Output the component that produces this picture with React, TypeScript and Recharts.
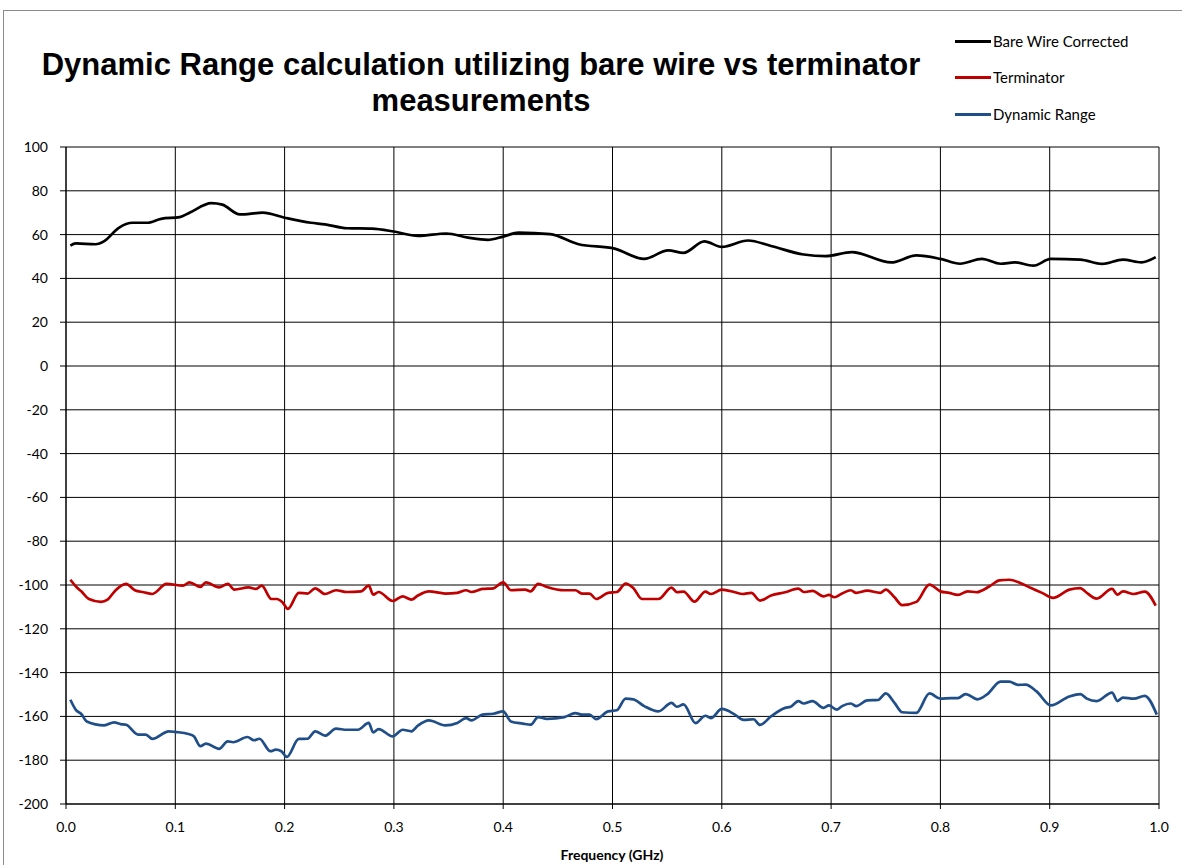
import React from 'react';
import { CartesianGrid, Line, LineChart, XAxis, YAxis } from 'recharts';

// Bare Wire Corrected
const bareFreq = [
  0.004, 0.009, 0.027, 0.035, 0.048, 0.061, 0.074, 0.087, 0.104, 0.113, 0.133, 0.143, 0.159, 0.18, 0.2, 0.224, 0.237,
  0.257, 0.28, 0.3, 0.322, 0.348, 0.368, 0.386, 0.4, 0.414, 0.443, 0.469, 0.502, 0.529, 0.551, 0.565, 0.584, 0.6,
  0.624, 0.645, 0.675, 0.695, 0.719, 0.755, 0.778, 0.8, 0.818, 0.838, 0.855, 0.868, 0.885, 0.901, 0.928, 0.948, 0.967,
  0.984, 0.997,
];
const bareVals = [
  55, 56, 55.6, 57, 63, 65.4, 65.4, 67.2, 68, 70, 74.4, 73.7, 69.2, 70, 67.7, 65.4, 64.7, 62.9, 62.7, 61.4, 59.4, 60.5,
  58.6, 57.6, 59.1, 60.9, 60.2, 55.6, 53.6, 48.9, 52.8, 51.7, 56.9, 54.4, 57.3, 54.8, 50.9, 50.2, 52, 47.3, 50.5, 48.9,
  46.7, 48.9, 46.7, 47.3, 45.8, 48.9, 48.6, 46.6, 48.6, 47.3, 49.7,
];

// Terminator
const termFreq = [
  0.004, 0.009, 0.014, 0.021, 0.032, 0.038, 0.045, 0.055, 0.063, 0.071, 0.079, 0.092, 0.107, 0.113, 0.123, 0.128, 0.14,
  0.148, 0.154, 0.167, 0.174, 0.179, 0.188, 0.193, 0.198, 0.203, 0.213, 0.221, 0.228, 0.237, 0.247, 0.257, 0.27, 0.277,
  0.281, 0.286, 0.299, 0.308, 0.316, 0.322, 0.332, 0.347, 0.358, 0.366, 0.371, 0.381, 0.391, 0.4, 0.407, 0.42, 0.425,
  0.432, 0.44, 0.456, 0.466, 0.472, 0.479, 0.485, 0.496, 0.504, 0.512, 0.519, 0.527, 0.542, 0.554, 0.559, 0.565, 0.575,
  0.585, 0.59, 0.6, 0.612, 0.619, 0.627, 0.635, 0.645, 0.658, 0.67, 0.675, 0.683, 0.693, 0.698, 0.703, 0.71, 0.718,
  0.723, 0.733, 0.745, 0.75, 0.758, 0.765, 0.778, 0.79, 0.8, 0.808, 0.816, 0.825, 0.833, 0.845, 0.854, 0.863, 0.873,
  0.883, 0.893, 0.903, 0.918, 0.928, 0.933, 0.943, 0.957, 0.962, 0.967, 0.977, 0.987, 0.997,
];
const termVals = [
  -97.6, -100.6, -102.9, -106.4, -107.7, -106.7, -102.6, -99.5, -102.4, -103.3, -104.1, -99.5, -100.3, -98.8, -100.9,
  -98.8, -101.1, -99.5, -102.1, -101.1, -101.8, -100.3, -106.4, -106.4, -107.9, -110.9, -103.6, -103.9, -101.5, -104.1,
  -102.4, -103.2, -102.9, -100.3, -104.4, -103.2, -107.3, -105.2, -106.7, -104.8, -102.9, -103.9, -103.6, -102.4,
  -103.2, -101.8, -101.5, -98.8, -102.4, -102.1, -102.9, -99.5, -100.9, -102.4, -102.4, -103.9, -103.9, -106.4, -103.6,
  -103.2, -99.4, -101.4, -106.4, -106.4, -101.2, -103.3, -103, -107.6, -103, -104.1, -102.1, -103.3, -104.1, -103.6,
  -107.1, -104.8, -103.3, -101.7, -103.2, -102.7, -105.2, -104.5, -105.6, -103.9, -102.4, -103.6, -102.6, -103.6,
  -102.1, -105.6, -109.2, -107.7, -99.8, -102.9, -103.6, -104.5, -102.9, -103.3, -100.6, -97.9, -97.6, -99.1, -101.4,
  -103.6, -105.9, -102.1, -101.4, -103.2, -106.2, -101.8, -104.4, -102.9, -104.1, -103, -109.4,
];

// Dynamic Range
const dynFreq = [
  0.004, 0.009, 0.014, 0.019, 0.035, 0.044, 0.05, 0.055, 0.066, 0.073, 0.079, 0.094, 0.1, 0.112, 0.117, 0.123, 0.128,
  0.14, 0.148, 0.153, 0.166, 0.172, 0.177, 0.187, 0.192, 0.197, 0.202, 0.213, 0.221, 0.228, 0.237, 0.247, 0.257, 0.267,
  0.277, 0.281, 0.286, 0.299, 0.308, 0.316, 0.322, 0.332, 0.347, 0.358, 0.366, 0.371, 0.381, 0.391, 0.4, 0.407, 0.418,
  0.425, 0.432, 0.44, 0.456, 0.466, 0.472, 0.479, 0.485, 0.496, 0.504, 0.512, 0.519, 0.529, 0.542, 0.554, 0.559, 0.565,
  0.576, 0.585, 0.59, 0.6, 0.612, 0.62, 0.629, 0.635, 0.645, 0.658, 0.663, 0.67, 0.675, 0.683, 0.693, 0.698, 0.705,
  0.71, 0.718, 0.723, 0.733, 0.743, 0.75, 0.758, 0.765, 0.778, 0.79, 0.8, 0.81, 0.816, 0.823, 0.834, 0.843, 0.855,
  0.863, 0.871, 0.878, 0.888, 0.901, 0.918, 0.928, 0.934, 0.943, 0.957, 0.962, 0.967, 0.977, 0.987, 0.998,
];
const dynVals = [
  -152.4, -157, -158.9, -162.3, -164.1, -162.7, -163.5, -163.8, -168.3, -168.3, -170.3, -166.8, -167.1, -168, -169.1,
  -173.6, -172.4, -174.8, -171.4, -171.8, -169.4, -170.9, -170.2, -175.9, -175.2, -175.9, -178.5, -170.3, -170.2,
  -166.8, -168.8, -165.6, -166.1, -166.1, -163, -167.3, -165.8, -169.1, -166.1, -166.8, -164.2, -161.8, -164.1, -163,
  -160.8, -161.8, -159.2, -158.8, -157.7, -162.3, -163.3, -163.8, -160.3, -161.1, -160.3, -158.5, -159.2, -159.2,
  -161.2, -157.7, -157.2, -151.9, -152.2, -155.3, -157.7, -153.8, -155.6, -154.5, -163.1, -159.7, -160.8, -156.6,
  -159.2, -161.6, -161.3, -163.9, -160, -156.1, -155.6, -153, -154.1, -153, -156.1, -155, -156.9, -155.3, -154.1,
  -155.3, -152.7, -152.5, -149.5, -153.8, -158.1, -158.4, -149.5, -151.9, -151.7, -151.7, -149.8, -152.2, -149.8,
  -144.1, -144.1, -145.6, -145.5, -148.6, -155, -150.9, -149.8, -151.9, -153, -149.1, -153, -151.4, -151.9, -150.6,
  -159.2,
];

const xTicks = [0, 0.1, 0.2, 0.3, 0.4, 0.5, 0.6, 0.7, 0.8, 0.9, 1.0];
const yTicks = [-200, -180, -160, -140, -120, -100, -80, -60, -40, -20, 0, 20, 40, 60, 80, 100];

const series = [
  { name: 'Bare Wire Corrected', color: '#000000', data: bareFreq.map((f, i) => ({ f, v: bareVals[i] })) },
  { name: 'Terminator', color: '#C00000', data: termFreq.map((f, i) => ({ f, v: termVals[i] })) },
  { name: 'Dynamic Range', color: '#1F4E89', data: dynFreq.map((f, i) => ({ f, v: dynVals[i] })) },
];

const font = "Lato, 'Liberation Sans', Arial, sans-serif";

const styles = {
  page: {
    position: 'fixed',
    inset: 0,
    overflow: 'hidden',
    background: '#fff',
  } as React.CSSProperties,
  frame: {
    position: 'absolute',
    left: 3,
    top: 10,
    width: 1400,
    height: 1000,
    borderLeft: '1px solid #8c8c8c',
    borderTop: '1px solid #8c8c8c',
  } as React.CSSProperties,
  title: {
    position: 'absolute',
    left: 0,
    top: 47,
    width: 962,
    textAlign: 'center',
    fontFamily: "'Liberation Sans', Arial, sans-serif",
    fontWeight: 'bold',
    fontSize: 31,
    lineHeight: '36px',
    color: '#000',
  } as React.CSSProperties,
  legendRow: {
    position: 'absolute',
    left: 955,
    display: 'flex',
    alignItems: 'center',
    fontFamily: font,
    fontSize: 15,
    color: '#000',
  } as React.CSSProperties,
  axisTitle: {
    position: 'absolute',
    left: 512,
    top: 846,
    width: 200,
    textAlign: 'center',
    fontFamily: font,
    fontWeight: 'bold',
    fontSize: 14,
    color: '#000',
  } as React.CSSProperties,
};

const legendTops = [31, 67, 104];

const App: React.FC = () => {
  return (
    <div style={styles.page}>
      <div style={styles.frame} />
      <div style={styles.title}>
        Dynamic Range calculation utilizing bare wire vs terminator
        <br />
        measurements
      </div>
      {series.map((s, i) => (
        <div key={s.name} style={{ ...styles.legendRow, top: legendTops[i] }}>
          <span style={{ display: 'inline-block', width: 36, height: 3, background: s.color }} />
          <span style={{ marginLeft: 2, lineHeight: '20px' }}>{s.name}</span>
        </div>
      ))}
      <div style={{ position: 'absolute', left: 0, top: 0 }}>
        <LineChart width={1182} height={865} margin={{ top: 147, right: 23, bottom: 31, left: 0 }}>
          <CartesianGrid stroke="#000" strokeWidth={1} horizontalValues={yTicks} verticalValues={xTicks} />
          <XAxis
            type="number"
            dataKey="f"
            domain={[0, 1]}
            ticks={xTicks}
            height={30}
            allowDuplicatedCategory={false}
            tickFormatter={(v: number) => v.toFixed(1)}
            tick={{ fill: '#000', fontSize: 14, fontFamily: font }}
            tickLine={{ stroke: '#000' }}
            axisLine={{ stroke: '#000' }}
            tickSize={5}
            tickMargin={13}
          />
          <YAxis
            type="number"
            domain={[-200, 100]}
            ticks={yTicks}
            width={66}
            interval={0}
            tick={{ fill: '#000', fontSize: 14, fontFamily: font }}
            tickLine={{ stroke: '#000' }}
            axisLine={{ stroke: '#000' }}
            tickSize={6}
            tickMargin={12}
          />
          {series.map((s) => (
            <Line
              key={s.name}
              data={s.data}
              dataKey="v"
              name={s.name}
              type="monotone"
              stroke={s.color}
              strokeWidth={2.7}
              dot={false}
              isAnimationActive={false}
            />
          ))}
        </LineChart>
      </div>
      <div style={styles.axisTitle}>Frequency (GHz)</div>
    </div>
  );
};

export default App;
